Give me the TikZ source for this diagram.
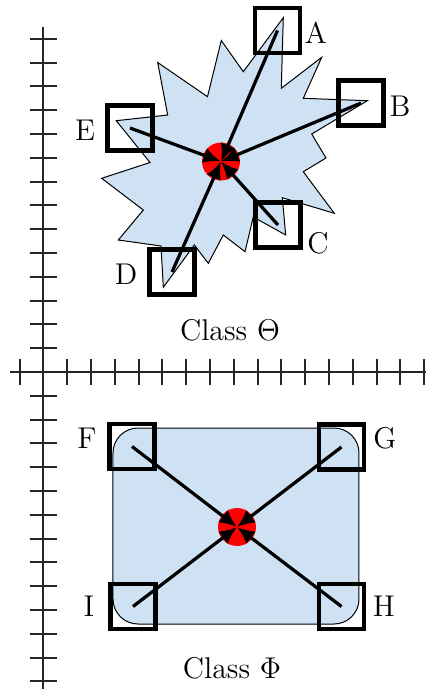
\documentclass[tikz,border=0pt]{standalone}
\usetikzlibrary{arrows.meta}
\definecolor{fillblue}{RGB}{207,226,243}
\begin{document}
\begin{tikzpicture}[x=0.4pt,y=-0.4pt,
  axisline/.style={line width=0.8pt,black!85},
  tickline/.style={line width=0.8pt,black!85},
  pbox/.style={draw,line width=1.8pt,minimum size=18pt,inner sep=0pt},
  hub/.style={circle,fill=red,minimum size=15.2pt,inner sep=0pt},
  arr/.style={line width=1.3pt,-{Latex[length=7pt,width=6.2pt]}},
  lbl/.style={font=\large,inner sep=0pt},
  region/.style={fill=fillblue,draw=black,line width=0.4pt}]
\useasboundingbox (0,0) rectangle (426,689);
% axes
\draw[axisline] (43.5,27) -- (43.5,689);
\draw[axisline] (10,372) -- (426,372);
\foreach \k in {-14,...,13} {\draw[tickline] (30,372+23.8*\k) -- (57,372+23.8*\k);}
\foreach \k in {-1,...,16} {\draw[tickline] (43.5+23.8*\k,359) -- (43.5+23.8*\k,385);}
% star region
\draw[region] (283.3,17.7) -- (281.3,88.3) -- (321.7,57.3) -- (303.3,98.3) -- (367.3,100.7)
  -- (311.7,134) -- (326,158) -- (303.3,171.7) -- (334.3,213.3) -- (282.3,197.7)
  -- (285.7,235) -- (253.3,217) -- (245,251.7) -- (223.3,235) -- (208.3,263.3)
  -- (194.3,245) -- (163.3,287.3) -- (161,246) -- (118.3,240) -- (143.3,210)
  -- (101.7,178.3) -- (150,162.5) -- (116.3,120.7) -- (167.7,115) -- (157.7,62.5)
  -- (207.5,96.7) -- (221.3,40.5) -- (243.3,71.7) -- cycle;
\node[hub] (cT) at (221,161.5) {};
\node[pbox] (A) at (277.5,30.5) {};
\node[pbox] (B) at (361,103) {};
\node[pbox] (C) at (278,225) {};
\node[pbox] (D) at (172,272) {};
\node[pbox] (E) at (130,128) {};
\foreach \n in {A,B,C,D,E} {\draw[arr] (\n.center) -- (cT.center);}
\node[lbl] (lA) at (316,33) {A};
\node[lbl] (lB) at (400,106) {B};
\node[lbl] (lC) at (318,243) {C};
\node[lbl] (lD) at (126,274) {D};
\node[lbl] (lE) at (85,130) {E};
\node[lbl] (tT) at (230,330) {Class $\Theta$};
% rounded rectangle region
\draw[region,rounded corners=10pt] (113,428) rectangle (359,624);
\node[hub] (cP) at (237,527) {};
\node[pbox] (F) at (132,446.5) {};
\node[pbox] (G) at (341.5,447) {};
\node[pbox] (H) at (341.5,606.5) {};
\node[pbox] (I) at (133,606.5) {};
\foreach \n in {F,G,H,I} {\draw[arr] (\n.center) -- (cP.center);}
\node[lbl] (lF) at (87,438) {F};
\node[lbl] (lG) at (385,438) {G};
\node[lbl] (lH) at (384,606) {H};
\node[lbl] (lI) at (89,606) {I};
\node[lbl] (tP) at (232,668) {Class $\Phi$};
\end{tikzpicture}
\end{document}
